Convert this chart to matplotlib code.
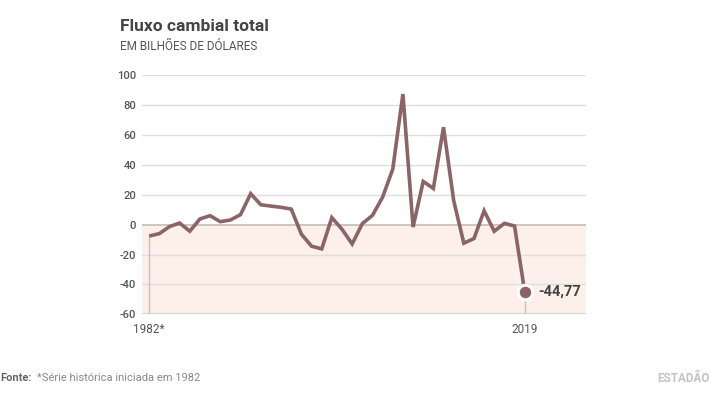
import matplotlib
matplotlib.use("Agg")
import matplotlib.pyplot as plt

plt.rcParams["font.family"] = ["Roboto", "DejaVu Sans"]

# Fluxo cambial total, em bilhões de dólares
years = list(range(1982, 2020))
values = [-7.6, -6.0, -1.3, 1.1, -4.4, 3.8, 6.0, 2.0, 3.1, 6.7,
          20.7, 13.3, 12.4, 11.6, 10.4, -6.4, -14.4, -16.2, 4.7, -3.1,
          -12.9, 0.7, 6.2, 18.4, 37.1, 87.3, -1.6, 28.9, 24.2, 65.1,
          16.2, -12.4, -9.3, 9.3, -4.4, 0.9, -0.9, -44.77]
yticks = [-60, -40, -20, 0, 20, 40, 60, 80, 100]
xtick_years = [1982, 2019]
xtick_labels = ["1982*", "2019"]
last_label = "-44,77"

line_color = "#8b6467"
grey = "#555555"

fig = plt.figure(figsize=(7.15, 3.95), dpi=100)
ax = fig.add_axes([0.198, 0.204, 0.622, 0.606])

ax.set_xlim(1981.25, 2025.07)
ax.set_ylim(-60, 100)

# pink area below zero
ax.axhspan(-60, 0, color="#fdefea", zorder=0, lw=0)
for t in yticks:
    if t == 0:
        ax.axhline(t, color="#c8c0bf", lw=1.3, zorder=1)
    elif t == -60:
        ax.axhline(t, color="#cfcfcf", lw=1.2, zorder=1)
    else:
        ax.axhline(t, color="#dedede", lw=1.0, zorder=1)

# drop lines at first and last year
ax.vlines([years[0], years[-1]], -60, [values[0], values[-1]],
          color="#c9c0c0", lw=1.0, zorder=2)

ax.plot(years, values, color=line_color, lw=2.6, zorder=3,
        solid_joinstyle="miter", solid_capstyle="butt")
ax.scatter([years[-1]], [values[-1]], s=110, color=line_color,
           edgecolors="white", linewidths=2.2, zorder=4)
ax.annotate(last_label, (years[-1], values[-1]), xytext=(10, 0),
            textcoords="offset points", va="center", ha="left",
            fontsize=10.5, fontweight="bold", color="#444444")

ax.set_yticks(yticks)
ax.set_yticklabels([str(t) for t in yticks], fontsize=8, color=grey,
                   fontweight="medium")
ax.set_xticks(xtick_years)
ax.set_xticklabels(xtick_labels, fontsize=8.5, color=grey)
ax.tick_params(axis="both", length=0, pad=4)
ax.tick_params(axis="x", pad=6)
for s in ax.spines.values():
    s.set_visible(False)

fig.text(0.168, 0.932, "Fluxo cambial total", fontsize=12.5,
         fontweight="bold", color="#444444", va="center", ha="left")
fig.text(0.168, 0.883, "EM BILHÕES DE DÓLARES", fontsize=8.5,
         color=grey, va="center", ha="left")

fig.text(0.0, 0.043, "Fonte:", fontsize=8, fontweight="bold",
         color="#666666", va="center", ha="left")
fig.text(0.052, 0.043, "*Série histórica iniciada em 1982", fontsize=8,
         color="#888888", va="center", ha="left")
fig.text(0.993, 0.043, "ESTADÃO", fontsize=8.5, fontweight="bold",
         color="#c4c4c4", va="center", ha="right")

fig.savefig("out.png", dpi=100)
